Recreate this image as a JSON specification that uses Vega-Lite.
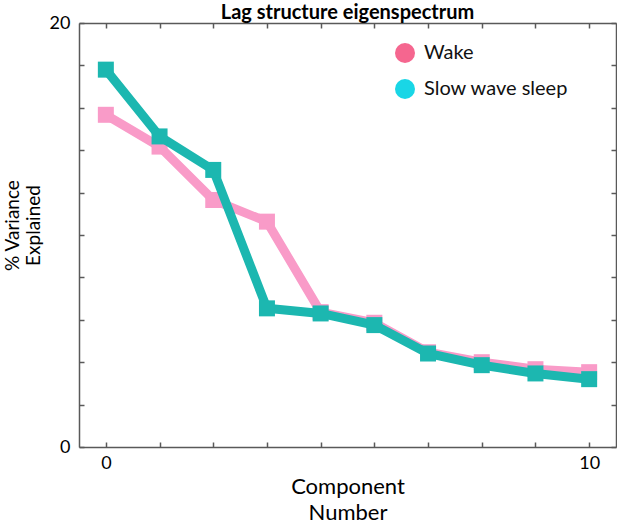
{
  "$schema": "https://vega.github.io/schema/vega-lite/v6.json",
  "width": 537,
  "height": 424,
  "autosize": {"type": "none"},
  "padding": {"left": 79, "top": 23, "right": 1, "bottom": 76},
  "config": {"font": "Lato", "view": {"stroke": null}},
  "title": {"text": "Lag structure eigenspectrum", "fontSize": 20, "fontWeight": "bold", "color": "#000000", "anchor": "middle", "offset": -9},
  "data": {"values": [
    {"component": 1, "state": "Wake", "variance": 15.67},
    {"component": 2, "state": "Wake", "variance": 14.17},
    {"component": 3, "state": "Wake", "variance": 11.65},
    {"component": 4, "state": "Wake", "variance": 10.63},
    {"component": 5, "state": "Wake", "variance": 6.36},
    {"component": 6, "state": "Wake", "variance": 5.86},
    {"component": 7, "state": "Wake", "variance": 4.47},
    {"component": 8, "state": "Wake", "variance": 4.0},
    {"component": 9, "state": "Wake", "variance": 3.67},
    {"component": 10, "state": "Wake", "variance": 3.53},
    {"component": 1, "state": "Slow wave sleep", "variance": 17.8},
    {"component": 2, "state": "Slow wave sleep", "variance": 14.65},
    {"component": 3, "state": "Slow wave sleep", "variance": 13.07},
    {"component": 4, "state": "Slow wave sleep", "variance": 6.54},
    {"component": 5, "state": "Slow wave sleep", "variance": 6.3},
    {"component": 6, "state": "Slow wave sleep", "variance": 5.75},
    {"component": 7, "state": "Slow wave sleep", "variance": 4.41},
    {"component": 8, "state": "Slow wave sleep", "variance": 3.86},
    {"component": 9, "state": "Slow wave sleep", "variance": 3.47},
    {"component": 10, "state": "Slow wave sleep", "variance": 3.2}
  ]},
  "resolve": {"axis": {"x": "independent", "y": "independent"}},
  "layer": [
    {
      "transform": [{"filter": "datum.state === 'Wake'"}],
      "mark": {"type": "line", "strokeWidth": 9, "strokeJoin": "miter"},
      "encoding": {
        "x": {"field": "component", "type": "quantitative", "scale": {"domain": [0.5, 10.5], "nice": false, "zero": false},
          "axis": {"orient": "bottom", "values": [1, 2, 3, 4, 5, 6, 7, 8, 9, 10],
            "labelExpr": "datum.value == 1 ? '0' : (datum.value == 10 ? '10' : '')",
            "grid": false, "tickSize": -5, "tickColor": "#595959", "tickWidth": 1.5,
            "domainColor": "#595959", "domainWidth": 1.5,
            "labelFontSize": 18, "labelColor": "#000000", "labelPadding": 12, "labelFlush": false,
            "title": ["Component", "Number"], "titleFontSize": 22, "titleLineHeight": 26, "titleFontWeight": "normal", "titleColor": "#000000", "titlePadding": 4}},
        "y": {"field": "variance", "type": "quantitative", "scale": {"domain": [0, 20], "nice": false},
          "axis": {"orient": "left", "values": [0, 2, 4, 6, 8, 10, 12, 14, 16, 18, 20],
            "labelExpr": "datum.value == 0 || datum.value == 20 ? datum.label : ''",
            "grid": false, "tickSize": -5, "tickColor": "#595959", "tickWidth": 1.5,
            "domainColor": "#595959", "domainWidth": 1.5,
            "labelFontSize": 18, "labelColor": "#000000", "labelPadding": 14, "labelFlush": false,
            "title": ["% Variance", "Explained"], "titleFontSize": 19, "titleFontWeight": "normal", "titleColor": "#000000", "titlePadding": 6, "titleY": 202}},
        "stroke": {"field": "state", "type": "nominal", "scale": {"domain": ["Slow wave sleep", "Wake"], "range": ["#1cb7b0", "#f99bc8"]}, "legend": null}
      }
    },
    {
      "transform": [{"filter": "datum.state === 'Wake'"}],
      "mark": {"type": "point", "shape": "square", "size": 256, "filled": true, "opacity": 1, "strokeWidth": 0},
      "encoding": {
        "x": {"field": "component", "type": "quantitative", "axis": null},
        "y": {"field": "variance", "type": "quantitative", "axis": null},
        "fill": {"field": "state", "type": "nominal", "scale": {"domain": ["Slow wave sleep", "Wake"], "range": ["#1cb7b0", "#f99bc8"]}, "legend": null}
      }
    },
    {
      "transform": [{"filter": "datum.state === 'Slow wave sleep'"}],
      "mark": {"type": "line", "strokeWidth": 9, "strokeJoin": "miter"},
      "encoding": {
        "x": {"field": "component", "type": "quantitative",
          "axis": {"orient": "top", "values": [1, 2, 3, 4, 5, 6, 7, 8, 9, 10], "labels": false, "title": null,
            "grid": false, "tickSize": -5, "tickColor": "#595959", "tickWidth": 1.5,
            "domainColor": "#595959", "domainWidth": 1.5}},
        "y": {"field": "variance", "type": "quantitative",
          "axis": {"orient": "right", "values": [0, 2, 4, 6, 8, 10, 12, 14, 16, 18, 20], "labels": false, "title": null,
            "grid": false, "tickSize": -5, "tickColor": "#595959", "tickWidth": 1.5,
            "domainColor": "#595959", "domainWidth": 1.5}},
        "stroke": {"field": "state", "type": "nominal", "legend": null}
      }
    },
    {
      "transform": [{"filter": "datum.state === 'Slow wave sleep'"}],
      "mark": {"type": "point", "shape": "square", "size": 256, "filled": true, "opacity": 1, "strokeWidth": 0},
      "encoding": {
        "x": {"field": "component", "type": "quantitative", "axis": null},
        "y": {"field": "variance", "type": "quantitative", "axis": null},
        "fill": {"field": "state", "type": "nominal", "legend": null}
      }
    },
    {
      "mark": {"type": "point", "shape": "circle", "filled": true, "opacity": 0},
      "encoding": {
        "x": {"field": "component", "type": "quantitative", "axis": null},
        "y": {"field": "variance", "type": "quantitative", "axis": null},
        "color": {
          "field": "state",
          "type": "nominal",
          "scale": {"domain": ["Wake", "Slow wave sleep"], "range": ["#f5668f", "#19d6e6"]},
          "legend": {
            "orient": "none",
            "legendX": 316,
            "legendY": 20,
            "title": null,
            "padding": 0,
            "symbolType": "circle",
            "symbolSize": 400,
            "symbolStrokeWidth": 0,
            "symbolOpacity": 1,
            "labelFontSize": 20,
            "labelColor": "#111111",
            "labelOffset": 9,
            "rowPadding": 16
          }
        }
      }
    }
  ]
}
